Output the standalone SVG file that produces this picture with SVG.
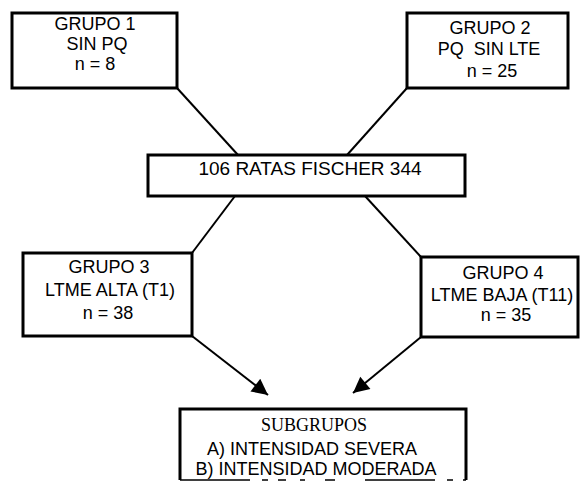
<svg xmlns="http://www.w3.org/2000/svg" width="580" height="492" viewBox="0 0 580 492">
<style>
.box{fill:#fff;stroke:#000;stroke-width:3}
.t{font-family:"Liberation Sans",Arial,sans-serif;font-size:18px;fill:#000;text-anchor:middle}
.s{font-family:"Liberation Serif","Times New Roman",serif;font-size:18px;fill:#000;text-anchor:middle}
.c{stroke:#000;stroke-width:2;fill:none}
</style>
<defs>
<marker id="ah" viewBox="0 0 10 10" refX="10" refY="5" markerWidth="9" markerHeight="8" markerUnits="strokeWidth" orient="auto">
<path d="M0,0 L10,5 L0,10 z" fill="#000"/>
</marker>
</defs>
<rect width="580" height="492" fill="#fff"/>
<g id="connectors">
<line class="c" x1="177" y1="88" x2="238" y2="155"/>
<line class="c" x1="407" y1="88" x2="347" y2="155"/>
<line class="c" x1="235" y1="196" x2="192" y2="253"/>
<line class="c" x1="365" y1="196" x2="421" y2="257"/>
<line class="c" x1="192" y1="336" x2="268" y2="395" marker-end="url(#ah)"/>
<line class="c" x1="421" y1="337" x2="353" y2="393" marker-end="url(#ah)"/>
</g>
<g id="grupo1">
<rect class="box" x="12" y="13" width="165" height="75"/>
<text class="t" x="95" y="29.5">GRUPO 1</text>
<text class="t" x="97" y="49.5">SIN PQ</text>
<text class="t" x="95" y="69.5">n = 8</text>
</g>
<g id="grupo2">
<rect class="box" x="407" y="13" width="161" height="75"/>
<text class="t" x="490" y="33.5">GRUPO 2</text>
<text class="t" x="489" y="54.5" style="white-space:pre">PQ  SIN LTE</text>
<text class="t" x="492" y="76.5">n = 25</text>
</g>
<g id="ratas">
<rect class="box" x="148" y="155" width="317" height="41"/>
<text class="t" x="310" y="175" style="font-size:19px">106 RATAS FISCHER 344</text>
</g>
<g id="grupo3">
<rect class="box" x="23" y="253" width="169" height="83"/>
<text class="t" x="109" y="272.5">GRUPO 3</text>
<text class="t" x="110" y="295.5">LTME ALTA (T1)</text>
<text class="t" x="108" y="318.5">n = 38</text>
</g>
<g id="grupo4">
<rect class="box" x="421" y="257" width="157" height="80"/>
<text class="t" x="503" y="279">GRUPO 4</text>
<text class="t" x="502" y="301">LTME BAJA (T11)</text>
<text class="t" x="506" y="321">n = 35</text>
</g>
<g id="subgrupos">
<path d="M180,480 V409 H466 V480" fill="#fff" stroke="#000" stroke-width="3"/>
<line x1="180" y1="480" x2="466" y2="480" stroke="#000" stroke-width="1.5" stroke-dasharray="70,12,6,10,8,14,5,20,10,30"/>
<text class="s" x="314" y="431">SUBGRUPOS</text>
<text class="t" x="312" y="455">A) INTENSIDAD SEVERA</text>
<text class="t" x="316" y="475">B) INTENSIDAD MODERADA</text>
</g>
</svg>
